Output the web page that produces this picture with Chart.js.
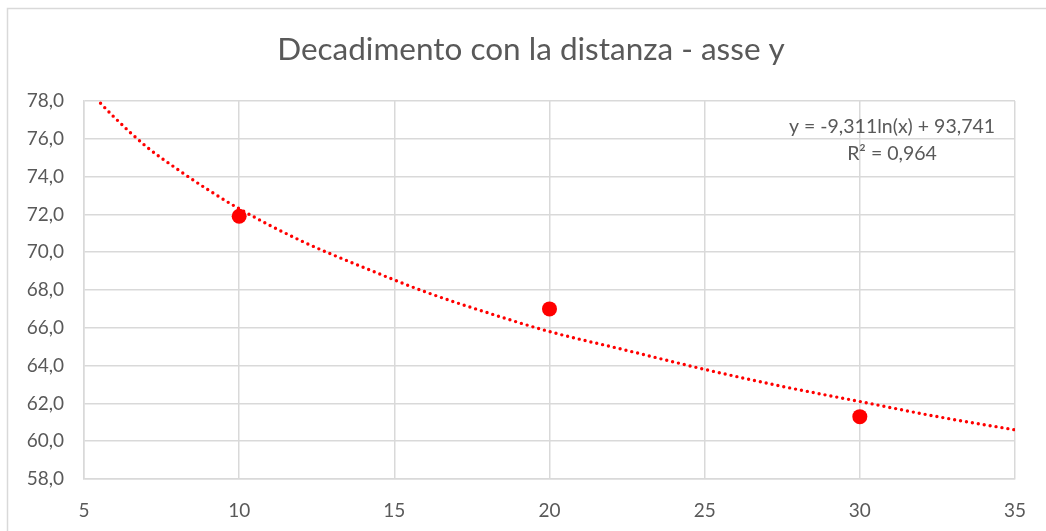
<!DOCTYPE html>
<html>
<head>
<meta charset="utf-8">
<script src="https://cdn.jsdelivr.net/npm/chart.js@4/dist/chart.umd.min.js"></script>
<style>
    body { margin: 0; background: #fff; }
    canvas { display: block; }
</style>
</head>
<body>
<canvas id="chart" width="1046" height="531"></canvas>
<script>
// Measured points (distance, value)
var distances = [10, 20, 30];
var values = [71.9, 67.0, 61.3];

// Logarithmic trendline
var trendX = [5, 6, 7, 8, 9, 10, 12, 14, 16, 18, 20, 22.5, 25, 27.5, 30, 32.5, 35];
var trendY = [78.8, 77.1, 75.6, 74.4, 73.3, 72.3, 70.6, 69.2, 67.9, 66.8, 65.8, 64.8, 63.8, 62.9, 62.1, 61.3, 60.6];

var chartTitle = 'Decadimento con la distanza - asse y';
var equationLines = ['y = -9,311ln(x) + 93,741', 'R² = 0,964'];

var textColor = '#595959';
var gridColor = '#d9d9d9';
var fontFamily = 'Lato, "Open Sans", sans-serif';

function toPoints(xs, ys) {
    return xs.map(function (x, i) { return { x: x, y: ys[i] }; });
}

// Frame, title (centred on the whole frame) and trendline label
var decorations = {
    id: 'decorations',
    beforeDraw: function (chart) {
        var ctx = chart.ctx;
        ctx.save();
        ctx.strokeStyle = gridColor;
        ctx.lineWidth = 1.5;
        ctx.strokeRect(7.5, 8.5, chart.width + 20, chart.height + 20);
        ctx.restore();
    },
    afterDraw: function (chart) {
        var ctx = chart.ctx;
        ctx.save();
        ctx.fillStyle = textColor;
        ctx.textAlign = 'center';
        ctx.textBaseline = 'middle';
        ctx.font = '31.5px ' + fontFamily;
        ctx.fillText(chartTitle, 531, 50);
        ctx.font = '19.5px ' + fontFamily;
        ctx.fillText(equationLines[0], 892, 127);
        ctx.fillText(equationLines[1], 892, 154);
        ctx.restore();
    }
};

var ctx = document.getElementById('chart').getContext('2d');
var chart = new Chart(ctx, {
    type: 'scatter',
    data: {
        datasets: [{
            label: 'asse y',
            data: toPoints(distances, values),
            backgroundColor: '#ff0000',
            borderWidth: 0,
            pointRadius: 7.5,
        }, {
            label: 'trend',
            type: 'line',
            data: toPoints(trendX, trendY),
            borderColor: '#ff0000',
            borderWidth: 3.4,
            borderDash: [0, 6],
            borderCapStyle: 'round',
            cubicInterpolationMode: 'monotone',
            pointRadius: 0,
            fill: false,
        }],
    },
    options: {
        responsive: false,
        animation: false,
        layout: {
            padding: { left: 0, right: 29, top: 101, bottom: 0 }
        },
        plugins: {
            legend: { display: false },
            tooltip: { enabled: false },
            title: { display: false },
        },
        scales: {
            x: {
                type: 'linear',
                min: 5,
                max: 35,
                ticks: {
                    stepSize: 5,
                    padding: 20,
                    color: textColor,
                    font: { family: fontFamily, size: 19 },
                },
                grid: { color: gridColor, lineWidth: 1.5, drawTicks: false },
                border: { color: gridColor, width: 1.5 },
                afterFit: function (scale) { scale.height = 52; },
            },
            y: {
                min: 58,
                max: 78,
                ticks: {
                    stepSize: 2,
                    padding: 20,
                    color: textColor,
                    font: { family: fontFamily, size: 19 },
                    callback: function (v) { return v.toFixed(1).replace('.', ','); },
                },
                grid: { color: gridColor, lineWidth: 1.5, drawTicks: false },
                border: { color: gridColor, width: 1.5 },
                afterFit: function (scale) { scale.width = 84; },
            },
        },
    },
    plugins: [decorations],
});
</script>
</body>
</html>
